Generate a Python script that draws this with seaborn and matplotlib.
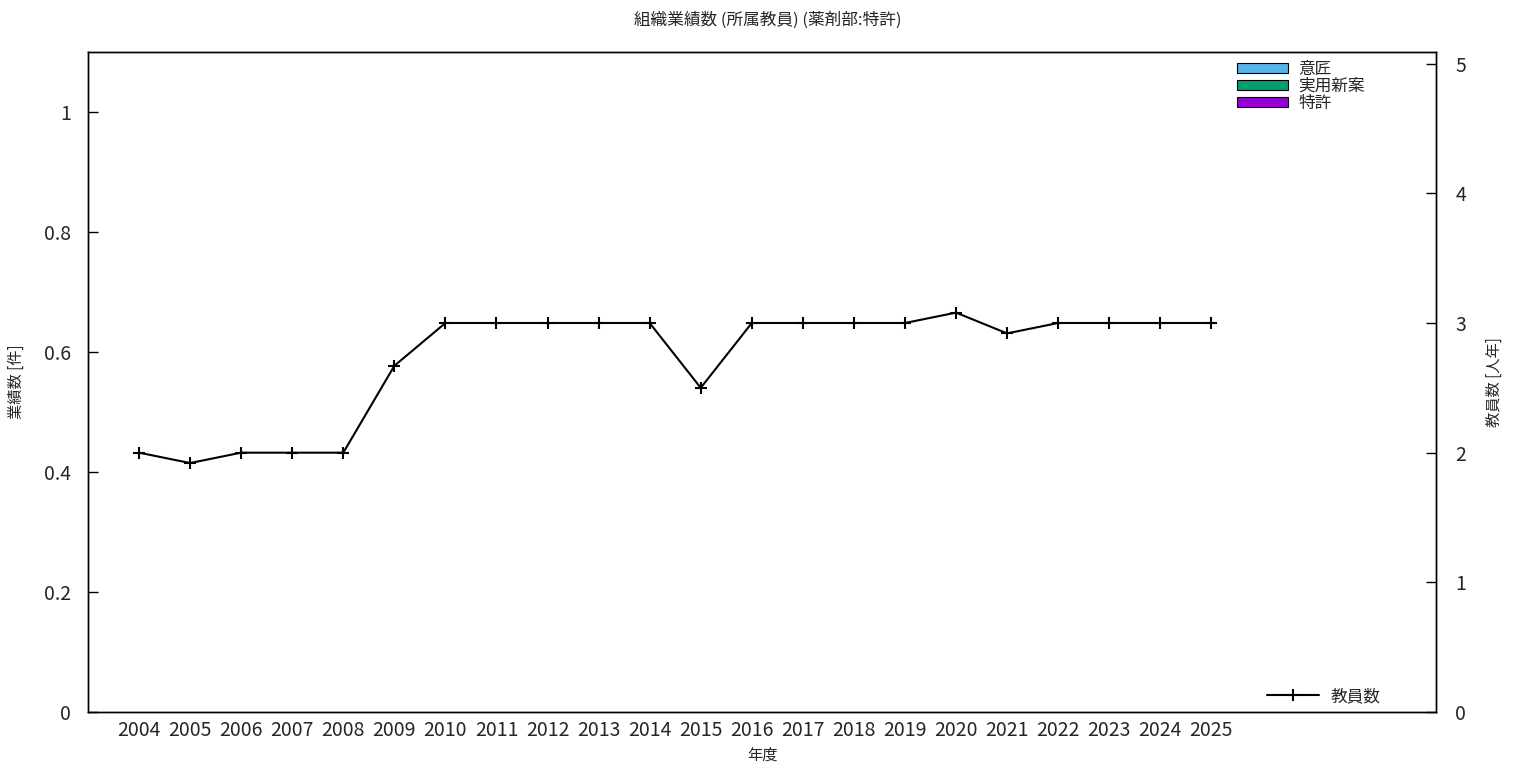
import numpy as np
import pandas as pd
import seaborn as sns
import matplotlib.pyplot as plt
from matplotlib.patches import Patch
from matplotlib.lines import Line2D

# --- data ---
years = [str(y) for y in range(2004, 2026)]
design = [0] * 22          # 意匠
utility = [0] * 22         # 実用新案
patent = [0] * 22          # 特許
staff = [2, 1.92, 2, 2, 2, 2.67, 3, 3, 3, 3, 3, 2.5, 3, 3, 3, 3, 3.08, 2.92, 3, 3, 3, 3]

series_names = ['意匠', '実用新案', '特許']
series_colors = ['#56b4e9', '#009e73', '#9400d3']

sns.set_style('white')
plt.rcParams['font.family'] = ['Noto Sans CJK JP', 'DejaVu Sans']

fig = plt.figure(figsize=(15.36, 7.68), dpi=100)
ax = fig.add_axes([88 / 1536, 56 / 768, 1348 / 1536, 660 / 768])

# stacked bars (all zero here)
bars = pd.DataFrame({'year': years, '意匠': design, '実用新案': utility, '特許': patent})
bottom = np.zeros(len(years))
for name, col in zip(series_names[::-1], series_colors[::-1]):
    sns.barplot(data=bars, x='year', y=name, color=col, ax=ax, width=0.5,
                linewidth=0, bottom=bottom)
    bottom = bottom + bars[name].values

ax.set_xlim(-1, 25.4)
ax.set_ylim(0, 1.1)
ax.set_yticks([0, 0.2, 0.4, 0.6, 0.8, 1])
ax.set_yticklabels(['0', '0.2', '0.4', '0.6', '0.8', '1'])
ax.set_xlabel('年度', fontsize=11, labelpad=4)
ax.set_ylabel('業績数 [件]', fontsize=11, labelpad=14)
ax.tick_params(axis='both', direction='in', length=7, width=1, labelsize=14, color='black')
ax.tick_params(axis='y', pad=12)
ax.tick_params(axis='x', pad=6)
for s in ax.spines.values():
    s.set_color('black')
    s.set_linewidth(1)

ax2 = ax.twinx()
line_df = pd.DataFrame({'x': np.arange(len(years)), 'staff': staff})
sns.lineplot(data=line_df, x='x', y='staff', ax=ax2, color='black', linewidth=1.5,
             marker='+', markersize=8, markeredgewidth=1.5, markeredgecolor='black')
ax2.set_ylim(0, 5.09)
ax2.set_xlim(-1, 25.4)
ax2.set_yticks([0, 1, 2, 3, 4, 5])
ax2.set_ylabel('教員数 [人年]', fontsize=11, labelpad=14)
ax2.tick_params(axis='y', direction='in', length=7, width=1, labelsize=14, pad=14, color='black')
for s in ax2.spines.values():
    s.set_color('black')
    s.set_linewidth(1)
ax.set_xticks(range(len(years)))
ax.set_xticklabels(years)

fig.suptitle('組織業績数 (所属教員) (薬剤部:特許)', fontsize=12, y=0.985)

handles = [Patch(facecolor=c, edgecolor='black', linewidth=0.8) for c in series_colors]
leg1 = ax2.legend(handles, series_names, loc='upper right', bbox_to_anchor=(0.957, 1.007),
                  frameon=False, fontsize=12, handlelength=3.1, handleheight=0.55,
                  labelspacing=0.0, handletextpad=0.6, borderpad=0.3)
ax2.add_artist(leg1)
lh = [Line2D([0], [0], color='black', linewidth=1.5, marker='+', markersize=8, markeredgewidth=1.5)]
ax2.legend(lh, ['教員数'], loc='lower right', bbox_to_anchor=(0.97, -0.012),
           frameon=False, fontsize=12, handlelength=3.1, handletextpad=0.7)

fig.savefig('out.png', dpi=100)
